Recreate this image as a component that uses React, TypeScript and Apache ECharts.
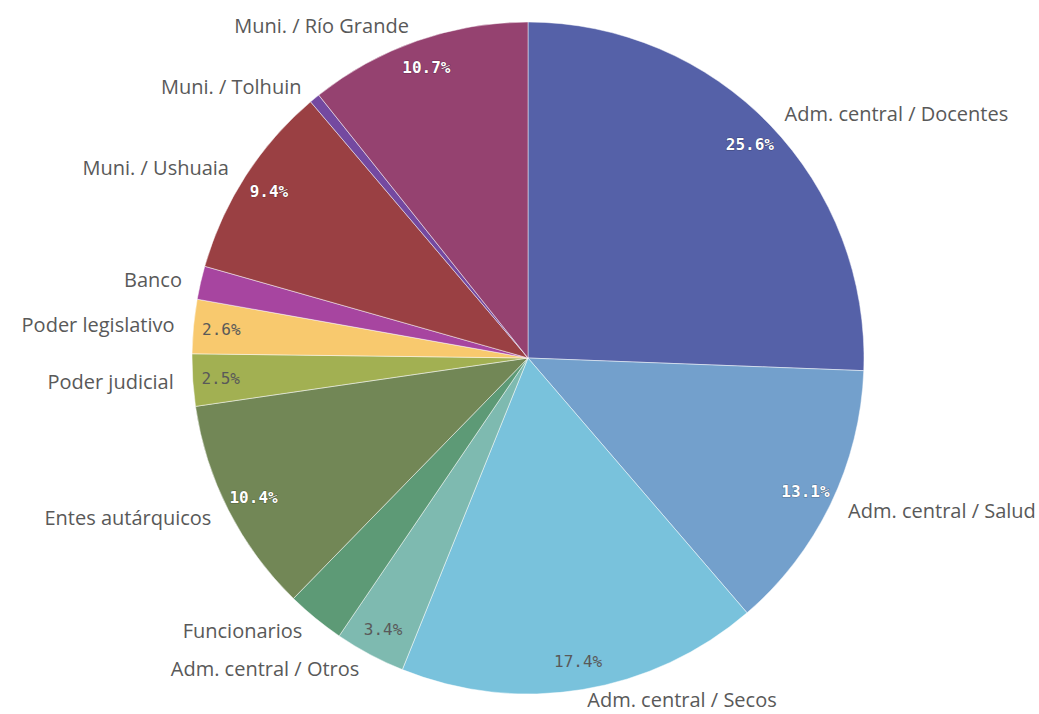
import React, { useEffect, useRef } from "react";
import * as echarts from "echarts";

const categories = [
  "Adm. central / Docentes",
  "Adm. central / Salud",
  "Adm. central / Secos",
  "Adm. central / Otros",
  "Funcionarios",
  "Entes autárquicos",
  "Poder judicial",
  "Poder legislativo",
  "Banco",
  "Muni. / Ushuaia",
  "Muni. / Tolhuin",
  "Muni. / Río Grande",
];
const values = [25.6, 13.1, 17.4, 3.4, 2.8, 10.4, 2.5, 2.6, 1.6, 9.4, 0.5, 10.7];
const colors = [
  "#5561a8", "#73a0cc", "#79c2dc", "#7ebab0", "#5d9a76", "#728756",
  "#a2b052", "#f8c96e", "#a745a0", "#9a4043", "#7449a0", "#954270",
];
const showPct = [true, true, true, true, false, true, true, true, false, true, false, true];
const lightPct = [true, true, false, false, false, true, false, false, false, true, false, true];

export default function App() {
  const ref = useRef<HTMLDivElement>(null);
  useEffect(() => {
    if (!ref.current) return;
    const chart = echarts.init(ref.current, undefined, { renderer: "svg" });
    const nameFont = "'Open Sans', 'Noto Sans', sans-serif";
    const pctFont = "'DejaVu Sans Mono', monospace";
    const base = categories.map((c, i) => ({ name: c, value: values[i] }));
    chart.setOption({
      animation: false,
      series: [
        {
          type: "pie",
          center: [528, 358],
          radius: [0, 336],
          startAngle: 90,
          clockwise: true,
          avoidLabelOverlap: false,
          silent: true,
          data: base.map((d, i) => ({
            ...d,
            itemStyle: { color: colors[i], borderColor: "rgba(255,255,255,0.6)", borderWidth: 0.8 },
            ...(i === 2
              ? { label: { padding: [0, 0, 0, 0] }, labelLine: { show: false, length: 10, length2: 0 } }
              : {}),
          })),
          label: {
            show: true,
            position: "outside",
            formatter: "{b}",
            color: "#595959",
            fontSize: 20,
            fontFamily: nameFont,
            distanceToLabelLine: 3,
            padding: [0, 0, 12, 0],
          },
          labelLine: { show: false, length: 16, length2: 0 },
        },
        {
          type: "pie",
          center: [528, 358],
          radius: [274, 336],
          startAngle: 90,
          clockwise: true,
          avoidLabelOverlap: false,
          silent: true,
          data: base.map((d, i) => ({
            ...d,
            itemStyle: { color: "transparent", borderWidth: 0 },
            label: {
              show: showPct[i],
              position: "inside",
              formatter: "{c}%",
              fontFamily: pctFont,
              fontSize: 16,
              color: lightPct[i] ? "#ffffff" : "#595959",
              fontWeight: lightPct[i] ? "bold" : "normal",
              textBorderColor: lightPct[i] ? "rgba(0,0,0,0.35)" : "transparent",
              textBorderWidth: lightPct[i] ? 1 : 0,
            },
          })),
          labelLine: { show: false },
        },
      ],
    });
    return () => chart.dispose();
  }, []);
  return (
    <div
      ref={ref}
      style={{ position: "fixed", left: 0, top: 0, width: 1039, height: 714, background: "#fff" }}
    />
  );
}
